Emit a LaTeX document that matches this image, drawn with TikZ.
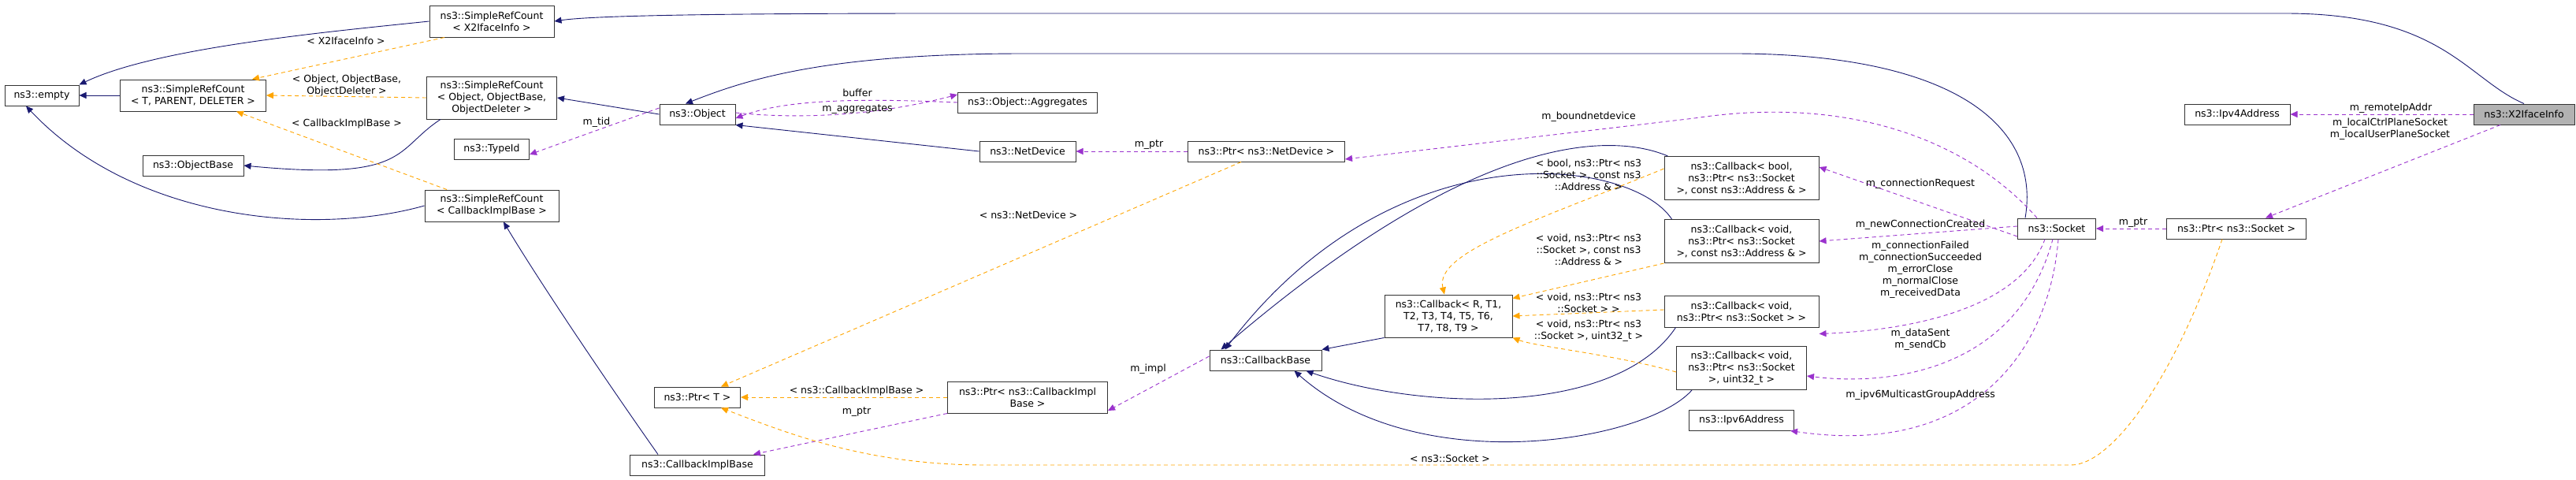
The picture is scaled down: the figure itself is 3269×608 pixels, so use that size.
\documentclass[tikz,border=0pt]{standalone}
\usepackage{fontspec}
\setmainfont{DejaVu Sans}
\usetikzlibrary{arrows.meta,calc}
\usepackage{xcolor}
\definecolor{inhcol}{RGB}{25,25,112}
\definecolor{usecol}{RGB}{154,50,205}
\definecolor{tplcol}{RGB}{255,165,0}
\tikzset{
  box/.style={draw=black!80, line width=1pt, fill=white, align=center, inner sep=2pt, font=\fontsize{12.5}{15}\selectfont},
  lbl/.style={align=center, inner sep=0pt, font=\fontsize{12.5}{15}\selectfont},
  inh/.style={draw=inhcol, line width=0.9pt, -{Triangle[length=9pt,width=8pt]}},
  use/.style={draw=usecol, line width=0.9pt, dashed, dash pattern=on 5pt off 4pt, -{Triangle[length=9pt,width=8pt]}},
  tpl/.style={draw=tplcol, line width=0.9pt, dashed, dash pattern=on 5pt off 4pt, -{Triangle[length=9pt,width=8pt]}}
}
\begin{document}
\begin{tikzpicture}[x=1pt,y=-1pt]
			\useasboundingbox (0,0) rectangle (3269,608);
			% classes
			\node[box, minimum width=94, minimum height=26] (empty) at (53,121) {ns3::empty};
			\node[box, minimum width=185, minimum height=40] (srcT) at (245,121) {ns3::SimpleRefCount\\\textless{} T, PARENT, DELETER \textgreater};
			\node[box, minimum width=158, minimum height=40] (srcX) at (624,27) {ns3::SimpleRefCount\\\textless{} X2IfaceInfo \textgreater};
			\node[box, minimum width=165, minimum height=54] (srcO) at (624,124) {ns3::SimpleRefCount\\\textless{} Object, ObjectBase,\\ObjectDeleter \textgreater};
			\node[box, minimum width=128, minimum height=26] (objbase) at (245,210) {ns3::ObjectBase};
			\node[box, minimum width=95, minimum height=26] (typeid) at (624,189) {ns3::TypeId};
			\node[box, minimum width=170, minimum height=40] (srcC) at (624,261) {ns3::SimpleRefCount\\\textless{} CallbackImplBase \textgreater};
			\node[box, minimum width=96, minimum height=26] (object) at (885,145) {ns3::Object};
			\node[box, minimum width=177, minimum height=26] (aggr) at (1304,130) {ns3::Object::Aggregates};
			\node[box, minimum width=122, minimum height=26] (netdev) at (1304,192) {ns3::NetDevice};
			\node[box, minimum width=199, minimum height=26] (ptrnd) at (1607,192) {ns3::Ptr\textless{} ns3::NetDevice \textgreater};
			\node[box, minimum width=109, minimum height=26] (ptrT) at (885,504) {ns3::Ptr\textless{} T \textgreater};
			\node[box, minimum width=171, minimum height=26] (cbimpl) at (885,590) {ns3::CallbackImplBase};
			\node[box, minimum width=203, minimum height=40] (ptrcb) at (1304,504) {ns3::Ptr\textless{} ns3::CallbackImpl\\Base \textgreater};
			\node[box, minimum width=142, minimum height=26] (cbbase) at (1606,457) {ns3::CallbackBase};
			\node[box, minimum width=162, minimum height=54] (cbR) at (1838,401) {ns3::Callback\textless{} R, T1,\\T2, T3, T4, T5, T6,\\T7, T8, T9 \textgreater};
			\node[box, minimum width=196, minimum height=55] (cbbool) at (2210,226) {ns3::Callback\textless{} bool,\\ns3::Ptr\textless{} ns3::Socket\\\textgreater, const ns3::Address \& \textgreater};
			\node[box, minimum width=196, minimum height=55] (cbaddr) at (2210,306) {ns3::Callback\textless{} void,\\ns3::Ptr\textless{} ns3::Socket\\\textgreater, const ns3::Address \& \textgreater};
			\node[box, minimum width=196, minimum height=40] (cbsock) at (2210,395) {ns3::Callback\textless{} void,\\ns3::Ptr\textless{} ns3::Socket \textgreater{} \textgreater};
			\node[box, minimum width=165, minimum height=55] (cbuint) at (2210,467) {ns3::Callback\textless{} void,\\ns3::Ptr\textless{} ns3::Socket\\\textgreater, uint32\_t \textgreater};
			\node[box, minimum width=133, minimum height=26] (ipv6) at (2210,533) {ns3::Ipv6Address};
			\node[box, minimum width=99, minimum height=26] (socket) at (2610,290) {ns3::Socket};
			\node[box, minimum width=177, minimum height=26] (ptrsock) at (2838,290) {ns3::Ptr\textless{} ns3::Socket \textgreater};
			\node[box, minimum width=134, minimum height=26] (ipv4) at (2839,145) {ns3::Ipv4Address};
			\node[box, minimum width=128, minimum height=26, fill=black!30] (x2) at (3203,145) {ns3::X2IfaceInfo};
			% inheritance
			\draw[inh] (srcX.west) .. controls (420,40) and (200,60) .. (empty.north east);
			\draw[inh] (srcT.west) -- (empty.east);
			\draw[inh] (srcC.west) .. controls (400,300) and (170,280) .. ([xshift=-20]empty.south);
			\draw[inh] (x2.north) .. controls (3130,100) and (3100,17) .. (2900,17) -- (1200,17) .. controls (900,17) and (750,20) .. (srcX.east);
			\draw[inh] ([xshift=-65]srcO.south) .. controls (500,190) and (520,230) .. (objbase.east);
			\draw[inh] (object.west) -- (srcO.east);
			\draw[inh] ([xshift=-40]socket.north) .. controls (2590,160) and (2480,68) .. (2200,68) -- (1300,68) .. controls (1050,68) and (950,100) .. ([xshift=-15]object.north);
			\draw[inh] (netdev.west) -- (object.south east);
			\draw[inh] ([xshift=-50]cbimpl.north) .. controls (760,470) and (680,350) .. ([xshift=15]srcC.south);
			\draw[inh] (cbR.south west) -- (cbbase.north east);
			\draw[inh] ([xshift=5]cbbool.north west) .. controls (2050,170) and (1880,160) .. ([xshift=15]cbbase.north west) ;
			\draw[inh] ([xshift=10]cbaddr.north west) .. controls (2070,200) and (1770,160) .. ([xshift=20]cbbase.north west);
			\draw[inh] ([xshift=15]cbsock.south west) .. controls (2050,530) and (1800,520) .. ([xshift=-20]cbbase.south east);
			\draw[inh] ([xshift=20]cbuint.south west) .. controls (2090,560) and (1800,610) .. ([xshift=-35]cbbase.south east);
			% members
			\draw[use] (aggr.west) .. controls (1100,125) and (1000,125) .. ([yshift=-5]object.east);
			\draw[use] ([yshift=2]object.east) .. controls (1000,150) and (1100,150) .. ([yshift=10]aggr.west);
			\draw[use] ([yshift=8]object.west) -- ([yshift=-7]typeid.east);
			\draw[use] (ptrnd.west) -- (netdev.east);
			\draw[use] ([xshift=-25]socket.north) .. controls (2500,180) and (2350,120) .. (2150,150) -- ([yshift=-10]ptrnd.east);
			\draw[use] ([yshift=-10]socket.west) -- ([yshift=14]cbbool.east);
			\draw[use] ([yshift=3]socket.west) -- (cbaddr.east);
			\draw[use] ([xshift=-15]socket.south) .. controls (2560,400) and (2400,420) .. ([yshift=-8]cbsock.south east);
			\draw[use] ([xshift=-5]socket.south) .. controls (2560,470) and (2400,490) .. ([yshift=-10]cbuint.east);
			\draw[use] ([xshift=2]socket.south) .. controls (2600,450) and (2500,580) .. ([xshift=-5]ipv6.south east);
			\draw[use] ([yshift=5]cbbase.west) -- ([yshift=-17]ptrcb.east);
			\draw[use] (ptrcb.south west) -- ([xshift=-15]cbimpl.north east);
			\draw[use] (ptrsock.west) -- (socket.east);
			\draw[use] (x2.west) -- (ipv4.east);
			\draw[use] ([xshift=-30]x2.south) -- ([xshift=37]ptrsock.north);
			% templates
			\draw[tpl] ([xshift=-60]srcX.south) -- ([xshift=75]srcT.north);
			\draw[tpl] (srcO.west) -- (srcT.east);
			\draw[tpl] ([xshift=-57]srcC.north) -- ([xshift=55]srcT.south);
			\draw[tpl] ([xshift=-32]ptrnd.south) -- ([xshift=30]ptrT.north);
			\draw[tpl] (ptrcb.west) -- (ptrT.east);
			\draw[tpl] ([xshift=-18]ptrsock.south) .. controls (2760,480) and (2680,590) .. (2628,590) -- (1250,590) .. controls (1100,590) and (1000,550) .. ([xshift=-25]ptrT.south east);
			\draw[tpl] ([yshift=12]cbbool.west) .. controls (1950,280) and (1820,320) .. ([xshift=-5]cbR.north);
			\draw[tpl] (cbaddr.south west) -- ([yshift=-5]cbR.north east);
			\draw[tpl] ([yshift=2]cbsock.west) -- (cbR.east);
			\draw[tpl] ([yshift=-5]cbuint.west) .. controls (2050,450) and (1950,440) .. (cbR.south east);
			% edge labels
			\node[lbl] (lX) at (439,52) {\textless{} X2IfaceInfo \textgreater};
			\node[lbl] (lO) at (440,109) {\textless{} Object, ObjectBase,\\ObjectDeleter \textgreater};
			\node[lbl] (lC) at (440,157) {\textless{} CallbackImplBase \textgreater};
			\node[lbl] (ltid) at (757,155) {m\_tid};
			\node[lbl] (lbuf) at (1088,118) {buffer};
			\node[lbl] (lagg) at (1088,139) {m\_aggregates};
			\node[lbl] (lptrnd) at (1458,184) {m\_ptr};
			\node[lbl] (lnd) at (1305,273) {\textless{} ns3::NetDevice \textgreater};
			\node[lbl] (lcbi) at (1087,496) {\textless{} ns3::CallbackImplBase \textgreater};
			\node[lbl] (lptrcb) at (1087,523) {m\_ptr};
			\node[lbl] (limpl) at (1457,468) {m\_impl};
			\node[lbl] (lbound) at (2016,148) {m\_boundnetdevice};
			\node[lbl] (lt1) at (2016,222) {\textless{} bool, ns3::Ptr\textless{} ns3\\::Socket \textgreater, const ns3\\::Address \& \textgreater};
			\node[lbl] (lt2) at (2016,317) {\textless{} void, ns3::Ptr\textless{} ns3\\::Socket \textgreater, const ns3\\::Address \& \textgreater};
			\node[lbl] (lt3) at (2016,384) {\textless{} void, ns3::Ptr\textless{} ns3\\::Socket \textgreater{} \textgreater};
			\node[lbl] (lt4) at (2016,420) {\textless{} void, ns3::Ptr\textless{} ns3\\::Socket \textgreater, uint32\_t \textgreater};
			\node[lbl] (lreq) at (2437,233) {m\_connectionRequest};
			\node[lbl] (lnew) at (2437,285) {m\_newConnectionCreated};
			\node[lbl] (lfail) at (2437,342) {m\_connectionFailed\\m\_connectionSucceeded\\m\_errorClose\\m\_normalClose\\m\_receivedData};
			\node[lbl] (lsent) at (2437,431) {m\_dataSent\\m\_sendCb};
			\node[lbl] (lmc) at (2437,501) {m\_ipv6MulticastGroupAddress};
			\node[lbl] (lsock) at (1840,582) {\textless{} ns3::Socket \textgreater};
			\node[lbl] (lptrs) at (2707,283) {m\_ptr};
			\node[lbl] (lrem) at (3034,137) {m\_remoteIpAddr};
			\node[lbl] (lloc) at (3033,164) {m\_localCtrlPlaneSocket\\m\_localUserPlaneSocket};
\end{tikzpicture}
\end{document}
